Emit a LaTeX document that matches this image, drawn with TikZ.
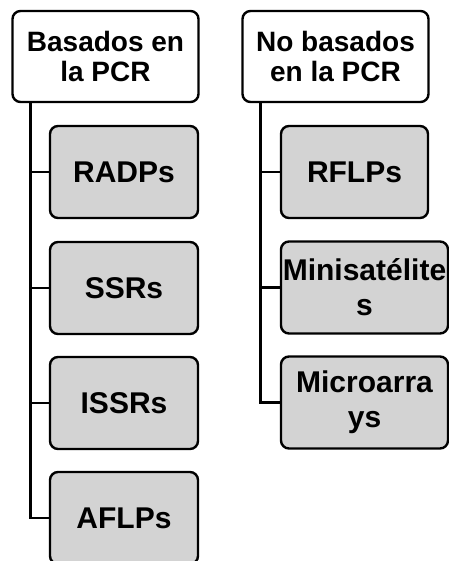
\documentclass[tikz,border=0pt]{standalone}
\usepackage{fontspec}
\setmainfont{Liberation Sans}
\definecolor{boxgray}{RGB}{211,211,211}
\tikzset{
  headbox/.style={draw,line width=2.4pt,rounded corners=8pt,fill=white,minimum width=186pt,minimum height=91pt,align=center,inner sep=0pt,font=\fontsize{28}{30}\selectfont\bfseries},
  itembox/.style={draw,line width=2.4pt,rounded corners=8pt,fill=boxgray,minimum height=92pt,align=center,inner sep=0pt,font=\fontsize{30}{35}\selectfont\bfseries},
  trunk/.style={line width=2.4pt}
}
\begin{document}
\begin{tikzpicture}[x=1pt,y=-1pt]
\useasboundingbox (0,0) rectangle (448,561);
\node[headbox] (pcr) at (105.5,56.5) {Basados en\\la PCR};
\node[headbox] (nopcr) at (335.5,56.5) {No basados\\en la PCR};
\foreach \nm/\y/\lab in {radp/172/RADPs,ssr/288/SSRs,issr/403/ISSRs,aflp/518/AFLPs}{
  \node[itembox,minimum width=148pt] (\nm) at (124,\y) {\lab};
  \draw[trunk] ([xshift=19pt]pcr.south west) |- (\nm.west);
}
\foreach \nm/\x/\y/\w/\lab in {rflp/354.5/172/147/RFLPs,mini/364.5/287.5/167/{Minisatélite\\s},micro/364.5/402.5/167/{Microarra\\ys}}{
  \node[itembox,minimum width=\w pt] (\nm) at (\x,\y) {\lab};
  \draw[trunk] ([xshift=19pt]nopcr.south west) |- (\nm.west);
}
\end{tikzpicture}
\end{document}
